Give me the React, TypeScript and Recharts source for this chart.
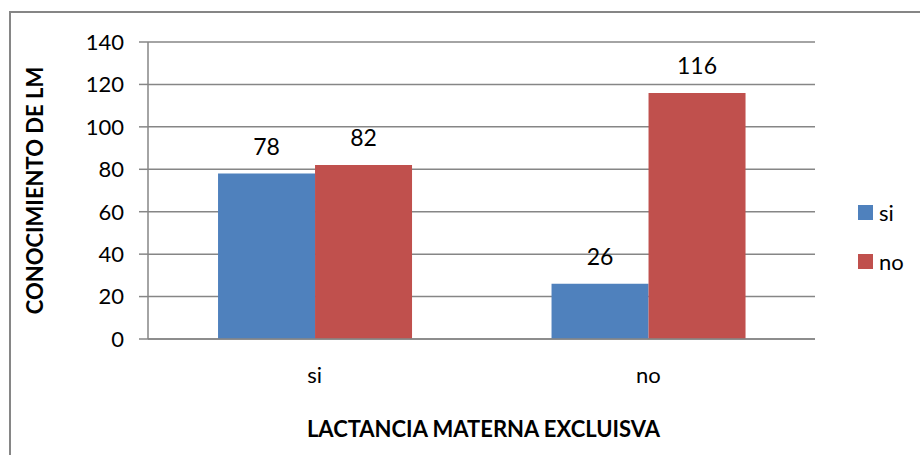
import { Bar, BarChart, CartesianGrid, LabelList, XAxis, YAxis } from 'recharts';

const categories = ['si', 'no'];
const siValues = [78, 26];
const noValues = [82, 116];
const yTicks = [0, 20, 40, 60, 80, 100, 120, 140];

const BLUE = '#4F81BD';
const RED = '#C0504D';
const GRID = '#868686';
const FONT = 'Lato, "Open Sans", sans-serif';

const data = categories.map((name, i) => ({ name, si: siValues[i], no: noValues[i] }));

const legendItems = [
  { label: 'si', color: BLUE },
  { label: 'no', color: RED },
];

function SideLegend() {
  return (
    <div style={{ position: 'absolute', left: 858, top: 188, fontFamily: FONT, fontSize: 22, color: '#000' }}>
      {legendItems.map((it) => (
        <div key={it.label} style={{ display: 'flex', alignItems: 'center', height: 49 }}>
          <span style={{ width: 15, height: 15, background: it.color, marginRight: 6, display: 'inline-block' }} />
          <span style={{ lineHeight: '15px' }}>{it.label}</span>
        </div>
      ))}
    </div>
  );
}

export default function App() {
  return (
    <div style={{ position: 'absolute', left: 0, top: 0, width: 920, height: 455, background: '#fff', overflow: 'hidden' }}>
      <div
        style={{
          position: 'absolute',
          left: 9,
          top: 11,
          width: 930,
          height: 460,
          border: `2px solid ${GRID}`,
          boxSizing: 'border-box',
        }}
      />
      <div style={{ position: 'absolute', left: 0, top: 0 }}>
        <BarChart
          width={920}
          height={455}
          data={data}
          margin={{ top: 42, right: 105, left: 88, bottom: 76 }}
          barCategoryGap="21%"
          barGap={0}
        >
          <CartesianGrid vertical={false} stroke={GRID} strokeWidth={1.5} />
          <XAxis
            dataKey="name"
            stroke={GRID}
            strokeWidth={1.5}
            tickLine={false}
            tickMargin={22}
            height={40}
            tick={{ fill: '#000', fontSize: 22, fontFamily: FONT }}
            label={{
              value: 'LACTANCIA MATERNA EXCLUISVA',
              position: 'bottom',
              offset: 42,
              dx: 2,
              style: { fill: '#000', fontSize: 22, fontWeight: 700, fontFamily: FONT },
            }}
          />
          <YAxis
            domain={[0, 140]}
            ticks={yTicks}
            interval={0}
            width={60}
            stroke={GRID}
            strokeWidth={1.5}
            tickSize={9}
            tickMargin={15}
            tick={{ fill: '#000', fontSize: 22, fontFamily: FONT }}
            label={{
              value: 'CONOCIMIENTO DE LM',
              angle: -90,
              position: 'left',
              offset: 53,
              style: { textAnchor: 'middle', fill: '#000', fontSize: 22, fontWeight: 700, fontFamily: FONT },
            }}
          />
          <Bar dataKey="si" fill={BLUE} isAnimationActive={false}>
            <LabelList dataKey="si" position="top" offset={19} style={{ fill: '#000', fontSize: 23, fontFamily: FONT }} />
          </Bar>
          <Bar dataKey="no" fill={RED} isAnimationActive={false}>
            <LabelList dataKey="no" position="top" offset={19} style={{ fill: '#000', fontSize: 23, fontFamily: FONT }} />
          </Bar>
        </BarChart>
      </div>
      <SideLegend />
    </div>
  );
}
